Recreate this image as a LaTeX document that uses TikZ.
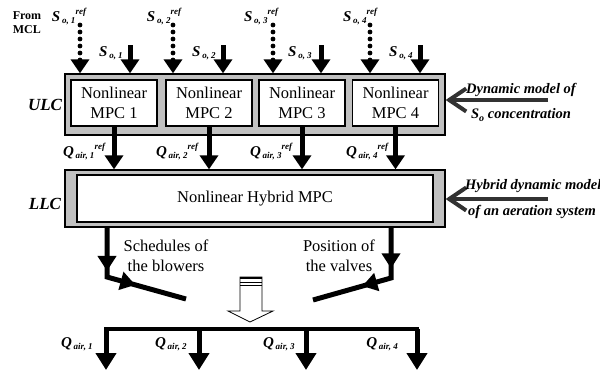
\documentclass[tikz,border=0pt]{standalone}
\usepackage{fontspec}
\setmainfont{Liberation Serif}
\usetikzlibrary{arrows.meta,decorations.markings,calc}
\definecolor{boxgray}{RGB}{192,192,192}
\definecolor{darkarrow}{RGB}{50,50,50}
\newcommand{\varlab}[3]{{\fontsize{15}{15}\selectfont\bfseries\itshape #1}\,{\fontsize{9}{9}\selectfont\bfseries\itshape\raisebox{-2.5pt}{#2}\raisebox{6.5pt}{#3}}}
\newcommand{\mpcfont}{\fontsize{16.5}{19.5}\selectfont}
\newcommand{\bifont}{\fontsize{14.5}{16}\selectfont\bfseries\itshape}
\begin{document}
\begin{tikzpicture}[x=1pt,y=-1pt,
  outerbox/.style={draw=black,line width=1.3pt,fill=boxgray,inner sep=0pt},
  innerbox/.style={draw=black,line width=1.1pt,fill=white,align=center,font=\mpcfont,inner sep=0pt},
  fatarrow/.style={line width=5pt,-{Triangle[length=14pt,width=18pt]}},
  legarrow/.style={line width=5pt,-{Triangle[length=17pt,width=20pt]}},
  dotarrow/.style={line width=4.8pt,line cap=round,dash pattern=on 0pt off 7pt,-{Triangle[length=14pt,width=18pt]}},
  grayarrow/.style={line width=4pt,draw=darkarrow,-{Straight Barb[length=17pt,width=23pt]}},
  fatline/.style={line width=5pt},
  lab/.style={inner sep=0pt},
  bilab/.style={inner sep=0pt,font=\bifont},
  textlab/.style={inner sep=0pt,align=center,font=\mpcfont},
  twomarks/.style n args={2}{postaction={decorate},decoration={markings,
     mark=at position #1 with {\arrow[line width=5pt]{Triangle[length=15pt,width=18pt]}},
     mark=at position #2 with {\arrow[line width=5pt]{Triangle[length=15pt,width=18pt]}}}}
]
\useasboundingbox (0,0) rectangle (600,372);

% ULC
\node[outerbox,minimum width=380pt,minimum height=61pt] (ulc) at (255,104.5) {};
\node[innerbox,minimum width=86pt,minimum height=46pt] (mpc1) at (114,103) {Nonlinear\\MPC 1};
\node[innerbox,minimum width=86pt,minimum height=46pt] (mpc2) at (209,103) {Nonlinear\\MPC 2};
\node[innerbox,minimum width=86pt,minimum height=46pt] (mpc3) at (302,103) {Nonlinear\\MPC 3};
\node[innerbox,minimum width=86pt,minimum height=46pt] (mpc4) at (395.5,103) {Nonlinear\\MPC 4};

% LLC
\node[outerbox,minimum width=380pt,minimum height=57pt] (llc) at (255,198.5) {};
\node[innerbox,minimum width=356pt,minimum height=47pt] (hyb) at (255,198.5) {Nonlinear Hybrid MPC};

% side labels
\node[bilab,font=\fontsize{17}{17}\selectfont\bfseries\itshape] (ulcl) at (45,105) {ULC};
\node[bilab,font=\fontsize{17}{17}\selectfont\bfseries\itshape] (llcl) at (45,204) {LLC};
\node[lab,align=left,font=\fontsize{12}{14}\selectfont\bfseries] (mcl) at (27,23) {From\\MCL};

% reference inputs
\coordinate (r1) at (80,25);  \coordinate (r2) at (173,25);
\coordinate (r3) at (273,25); \coordinate (r4) at (370,25);
\coordinate (s1) at (130,45); \coordinate (s2) at (223,45);
\coordinate (s3) at (321,45); \coordinate (s4) at (420,45);
\foreach \i in {1,2,3,4}{
  \draw[dotarrow] (r\i) -- (r\i |- ulc.north);
  \draw[fatarrow] (s\i) -- (s\i |- ulc.north);
}
\node[lab] (lr1) at (69,17) {\varlab{S}{o, 1}{ref}};
\node[lab] (lr2) at (164,17) {\varlab{S}{o, 2}{ref}};
\node[lab] (lr3) at (261,17) {\varlab{S}{o, 3}{ref}};
\node[lab] (lr4) at (360,17) {\varlab{S}{o, 4}{ref}};
\node[lab] (ls1) at (111,53) {\varlab{S}{o, 1}{}};
\node[lab] (ls2) at (204,53) {\varlab{S}{o, 2}{}};
\node[lab] (ls3) at (300,53) {\varlab{S}{o, 3}{}};
\node[lab] (ls4) at (401,53) {\varlab{S}{o, 4}{}};

% Q ref
\foreach \i in {1,2,3,4}{
  \draw[fatarrow] (mpc\i.south) -- (mpc\i.south |- llc.north);
}
\node[lab] (lq1) at (84,152) {\varlab{Q}{air, 1}{ref}};
\node[lab] (lq2) at (177,152) {\varlab{Q}{air, 2}{ref}};
\node[lab] (lq3) at (271,152) {\varlab{Q}{air, 3}{ref}};
\node[lab] (lq4) at (367,152) {\varlab{Q}{air, 4}{ref}};

% models
\coordinate (dm) at (548,100);
\draw[grayarrow] (dm) -- (ulc.east |- dm);
\node[bilab] (dmt1) at (521,90) {Dynamic model of};
\node[bilab] (dmt2) at (521,115) {S\raisebox{-2.5pt}{\fontsize{10}{10}\selectfont o} concentration};
\coordinate (hm) at (548,199);
\draw[grayarrow] (hm) -- (llc.east |- hm);
\node[bilab,anchor=west] (hmt1) at (465,186) {Hybrid dynamic model};
\node[bilab] (hmt2) at (532,212) {of an aeration system};

% outputs of LLC
\coordinate (bl1) at (107,277); \coordinate (bl2) at (186,299);
\draw[fatline,twomarks={0.33}{0.60}] (llc.south -| bl1) -- (bl1) -- (bl2);
\coordinate (br1) at (391,278); \coordinate (br2) at (313,300);
\draw[fatline,twomarks={0.31}{0.61}] (llc.south -| br1) -- (br1) -- (br2);
\node[textlab] (sched) at (166,256) {Schedules of\\the blowers};
\node[textlab] (posv) at (339,256) {Position of\\the valves};

% open block arrow
\draw[line width=0.8pt,fill=white] (240,277) -- (262,277) -- (262,311) -- (273,311) -- (250,322) -- (228,311) -- (240,311) -- cycle;
\draw[line width=2pt] (240,278) -- (262,278);
\draw[line width=1pt] (240,282) -- (262,282);
\draw[line width=0.8pt] (240,285) -- (262,285);

% distribution bar
\coordinate (b1) at (106,329); \coordinate (b2) at (199,329);
\coordinate (b3) at (306,329); \coordinate (b4) at (417,329);
\draw[line width=4.5pt,line cap=rect] (b1) -- (b4);
\foreach \i in {1,2,3,4}{
  \coordinate (o\i) at ($(b\i)+(0,41)$);
  \draw[legarrow] (b\i) -- (o\i);
}
\node[lab] (lo1) at (77,344) {\varlab{Q}{air, 1}{}};
\node[lab] (lo2) at (171,344) {\varlab{Q}{air, 2}{}};
\node[lab] (lo3) at (279,344) {\varlab{Q}{air, 3}{}};
\node[lab] (lo4) at (382,344) {\varlab{Q}{air, 4}{}};
\end{tikzpicture}
\end{document}
